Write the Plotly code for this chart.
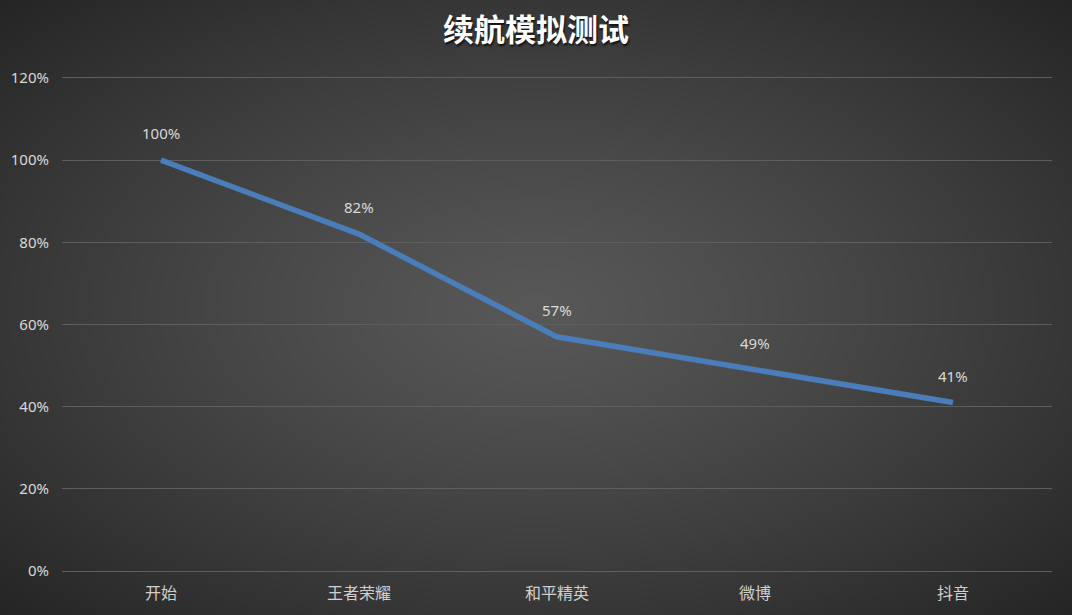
import base64
import struct
import zlib

import numpy as np
import plotly.graph_objects as go

categories = ["开始", "王者荣耀", "和平精英", "微博", "抖音"]
values = [1.00, 0.82, 0.57, 0.49, 0.41]
y_ticks = [0, 0.2, 0.4, 0.6, 0.8, 1.0, 1.2]
y_tick_text = ["0%", "20%", "40%", "60%", "80%", "100%", "120%"]

W, H = 1072, 615
L, R, T, B = 62, 20, 78, 44
GRID = "#5e5e5e"


def gradient_png(w, h, inner=0x58, outer=0x25):
    # radial grey background, lighter in the middle
    yy, xx = np.mgrid[0:h, 0:w]
    cx, cy = w / 2, h / 2
    d = np.sqrt(((xx - cx) / cx) ** 2 + ((yy - cy) / cy) ** 2) / np.sqrt(2)
    g = (inner - (inner - outer) * np.clip(d, 0, 1) ** 1.2).astype(np.uint8)
    raw = b"".join(b"\x00" + row.tobytes() for row in g)

    def chunk(tag, data):
        return struct.pack(">I", len(data)) + tag + data + struct.pack(">I", zlib.crc32(tag + data) & 0xFFFFFFFF)

    png = b"\x89PNG\r\n\x1a\n"
    png += chunk(b"IHDR", struct.pack(">IIBBBBB", w, h, 8, 0, 0, 0, 0))
    png += chunk(b"IDAT", zlib.compress(raw, 9))
    png += chunk(b"IEND", b"")
    return "data:image/png;base64," + base64.b64encode(png).decode()


pw, ph = W - L - R, H - T - B

fig = go.Figure()
fig.add_trace(go.Scatter(
    x=categories,
    y=values,
    mode="lines",
    line=dict(color="#4a7ebb", width=5.5),
    hoverinfo="skip",
))

for c, v in zip(categories, values):
    fig.add_annotation(
        x=c, y=v, text=f"{round(v * 100)}%", showarrow=False,
        yshift=27, font=dict(family="Noto Sans, Liberation Sans", size=15, color="#d9d9d9"),
    )

fig.update_layout(
    width=W, height=H,
    margin=dict(l=L, r=R, t=T, b=B),
    paper_bgcolor="#2a2a2a",
    plot_bgcolor="rgba(0,0,0,0)",
    showlegend=False,
    title=dict(
        text="<b>续航模拟测试</b>",
        x=0.5, xanchor="center", y=0.951, yanchor="middle",
        font=dict(family="Noto Sans CJK SC", size=31, color="#ffffff",
                  shadow="1px 2px 2px #111111"),
    ),
    images=[dict(
        source=gradient_png(W, H), xref="paper", yref="paper",
        x=-L / pw, y=1 + T / ph, sizex=W / pw, sizey=H / ph,
        sizing="stretch", xanchor="left", yanchor="top", layer="below",
    )],
    xaxis=dict(
        range=[-0.5, 4.5], showgrid=False, zeroline=False,
        showline=True, mirror=True, linecolor=GRID, linewidth=1.3,
        ticks="", ticklabelstandoff=8,
        tickfont=dict(family="Noto Sans CJK SC", size=16, color="#d0d0d0"),
    ),
    yaxis=dict(
        range=[0, 1.2], tickvals=y_ticks, ticktext=y_tick_text,
        showgrid=True, gridcolor=GRID, gridwidth=1.3, zeroline=False,
        showline=False, ticks="", ticklabelstandoff=12,
        tickfont=dict(family="Noto Sans, Liberation Sans", size=15, color="#d9d9d9"),
    ),
)

fig.write_html(
    "out.html",
    config={"displayModeBar": False},
    post_script="document.body.style.margin='0';document.body.style.background='#2a2a2a';",
)
